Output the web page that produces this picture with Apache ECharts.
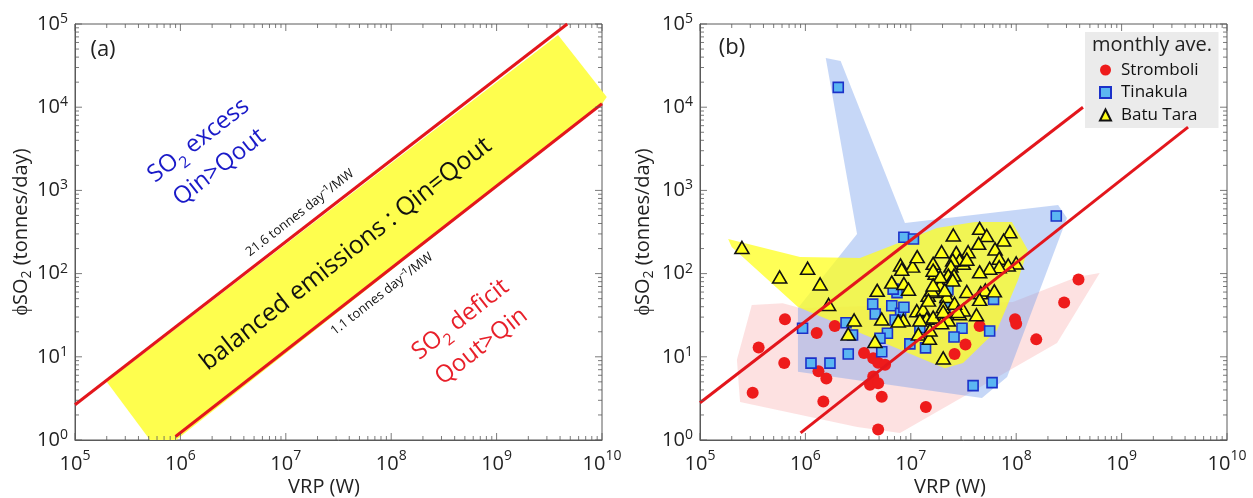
<!DOCTYPE html>
<html><head><meta charset="utf-8">
<script src="https://cdn.jsdelivr.net/npm/echarts/dist/echarts.min.js"></script>
<style>html,body{margin:0;padding:0;background:#fff}#c{width:1253px;height:498px}</style>
</head><body><div id="c"></div>
<script>
// ---------- axis / tick definitions ----------
const xDecades = [1e5, 1e6, 1e7, 1e8, 1e9, 1e10];
const yDecades = [1, 10, 100, 1e3, 1e4, 1e5];
const minorMultipliers = [2, 3, 4, 5, 6, 7, 8, 9];

// ---------- panel (a) ----------
const panelAUpperLine = [[1e5, 2.65], [4.68e9, 1e5]];      // 21.6 tonnes/day/MW
const panelALowerLine = [[9.0e5, 1.1], [1e10, 1.1e4]];     // 1.1 tonnes/day/MW
const panelABand = [[2.0e5, 5.0], [5.15e5, 1], [9.1e5, 1], [1.0e10, 1.1e4], [1.11e10, 1.33e4], [3.83e9, 7.4e4]];

// ---------- panel (b) ----------
const panelBUpperLine = [[1e5, 2.8], [4.3e8, 1e4]];
const panelBLowerLine = [[9.0e5, 1.22], [4.27e9, 5750]];

const strombolRegion = [[2.24e5, 9.2], [3.1e5, 42], [6.1e5, 44], [8.9e5, 38.6], [9.3e7, 45.6], [3.78e8, 91], [6.2e8, 102], [2.44e8, 14.7], [7.9e6, 1.21], [3.1e6, 1.43], [2.4e5, 2.86]];
const tinakulaRegion = [[1.56e6, 3.9e4], [2.16e6, 3.59e4], [8.8e6, 405], [2.5e8, 668], [3.03e8, 466], [8.2e7, 5.7], [4.73e7, 3.2], [8.5e5, 6.6], [8.5e5, 38.6], [3.09e6, 299]];
const batuTaraRegion = [[1.85e5, 261], [8.9e5, 158], [3.3e6, 154], [1.77e7, 353], [4.07e7, 417], [9.1e7, 417], [1.29e8, 192], [1.04e8, 83.8], [6.58e7, 21], [3.13e7, 8.4], [2.1e7, 7.3], [8.5e5, 39.7], [2.0e5, 209]];

const stromboli = [[3.16e5,3.7],[3.6e5,12.9],[6.4e5,28.2],[6.3e5,8.4],[1.28e6,19.3],[1.33e6,6.7],[1.58e6,5.5],[1.48e6,2.9],[1.9e6,23.5],[3.6e6,11.1],[4.4e6,9.6],[4.9e6,8.5],[5.7e6,8.0],[4.4e6,5.8],[4.1e6,4.6],[4.9e6,4.8],[5.3e6,3.3],[4.9e6,1.34],[1.39e7,2.5],[2.6e7,10.8],[3.3e7,14.1],[4.5e7,23.5],[9.75e7,28.2],[1.0e8,25],[1.55e8,16.2],[2.85e8,45],[3.9e8,85]];
const tinakula = [[2.05e6,17300],[8.6e6,273],[1.06e7,261],[2.4e8,492],[9.4e5,22],[1.13e6,8.4],[1.71e6,8.4],[2.43e6,25.7],[2.8e6,18.3],[2.55e6,10.8],[4.35e6,43],[4.6e6,32.7],[5.3e6,11.5],[6.0e6,19.2],[6.6e6,41],[7.4e6,59],[8.0e6,33.3],[8.6e6,39.4],[6.8e6,65],[9.8e6,14.3],[1.22e7,22.5],[1.38e7,12.8],[7.1e6,27.7],[5.1e6,16.7],[2.25e7,64],[2.13e7,41],[3.06e7,22],[2.57e7,17.3],[5.6e7,20.4],[6.1e7,49],[3.9e7,4.5],[5.9e7,4.9]];
const batuTara = [[2.5e5,206],[5.7e5,91],[1.05e6,116],[1.38e6,75],[1.66e6,42.5],[2.9e6,27.7],[2.55e6,18.8],[4.57e6,15.3],[4.8e6,63],[5.3e6,28.5],[6.6e6,79],[8.0e6,127],[8.6e6,76],[8.5e6,27.7],[9.5e6,65],[1.04e7,123],[1.15e7,160],[1.18e7,18.8],[1.5e7,16.7],[1.63e7,133],[1.7e7,101],[1.96e7,183],[2.03e7,9.7],[1.14e7,35.8],[1.31e7,37],[1.42e7,29],[1.46e7,55],[7.6e6,27],[8.2e6,113],[2.53e7,291],[4.5e7,350],[5.25e7,287],[8.7e7,319],[7.6e7,253],[4.4e7,231],[6.3e7,198],[6.9e7,153],[1.0e8,134],[8.4e7,127],[6.9e7,121],[5.6e7,116],[4.5e7,105],[3.5e7,183],[3.15e7,133],[2.7e7,179],[2.9e7,146],[2.5e7,146],[1.63e7,110],[2.4e7,123],[2.27e7,96],[2.57e7,96],[2.5e7,84],[1.9e7,73],[1.73e7,61],[2.2e7,53],[2.1e7,63.5],[1.58e7,63.5],[1.47e7,48],[2.03e7,40],[2.0e7,30],[2.27e7,27.7],[1.96e7,25.7],[1.63e7,30],[1.22e7,27.7],[3.4e7,61],[4.6e7,59],[5.1e7,63.5],[6.2e7,62],[4.5e7,49],[2.9e7,33],[3.15e7,36.5],[4.2e7,32],[2.6e7,44],[1.9e7,92],[2.8e7,35],[2.03e7,35],[1.52e7,21],[1.63e7,73],[3.4e7,149]];

// ---------- chart ----------
var FONT = 'Open Sans';
var AX = '#5a5a5a';
var X_MIN = xDecades[0], X_MAX = xDecades[xDecades.length - 1];
var Y_MIN = yDecades[0], Y_MAX = yDecades[yDecades.length - 1];

function expLabel(v) { return '{b|10}{e|' + Math.round(Math.log(v) / Math.LN10) + '}'; }

function xAxis(gi) {
  return {
    type: 'log', logBase: 10, gridIndex: gi, min: X_MIN, max: X_MAX,
    axisLine: { show: true, lineStyle: { color: AX, width: 1 } },
    axisTick: { show: false }, splitLine: { show: false },
    axisLabel: {
      formatter: expLabel, margin: 9, showMinLabel: true, showMaxLabel: true,
      rich: { b: { fontSize: 20, lineHeight: 30, color: '#222', fontFamily: FONT },
              e: { fontSize: 14, lineHeight: 10, verticalAlign: 'top', color: '#222', fontFamily: FONT } }
    }
  };
}
function yAxis(gi) {
  return {
    type: 'log', logBase: 10, gridIndex: gi, min: Y_MIN, max: Y_MAX,
    axisLine: { show: true, lineStyle: { color: AX, width: 1 } },
    axisTick: { show: false }, splitLine: { show: false },
    axisLabel: {
      formatter: expLabel, margin: 7, showMinLabel: true, showMaxLabel: true,
      rich: { b: { fontSize: 20, lineHeight: 24, color: '#222', fontFamily: FONT },
              e: { fontSize: 14, lineHeight: 12, verticalAlign: 'top', color: '#222', fontFamily: FONT } }
    }
  };
}

function polySeries(pts, fill, gi) {
  return {
    type: 'custom', xAxisIndex: gi, yAxisIndex: gi, silent: true, z: 1,
    data: [pts[0]],
    renderItem: function (params, api) {
      return { type: 'polygon', shape: { points: pts.map(function (p) { return api.coord(p); }) }, style: { fill: fill } };
    }
  };
}
function lineSeries(pts, gi) {
  return {
    type: 'line', xAxisIndex: gi, yAxisIndex: gi, data: pts, symbol: 'none', silent: true, z: 5,
    lineStyle: { color: '#e3161c', width: 3 }
  };
}

// ---- ticks: tiny rect symbols placed on the axes via the log scales ----
function minorOf(decades) {
  var out = [];
  for (var i = 0; i < decades.length - 1; i++)
    for (var j = 0; j < minorMultipliers.length; j++) out.push(decades[i] * minorMultipliers[j]);
  return out;
}
var minorX = minorOf(xDecades), minorY = minorOf(yDecades);
function tickScatter(gi, data, size, offset) {
  return {
    type: 'scatter', xAxisIndex: gi, yAxisIndex: gi, data: data, symbol: 'rect',
    symbolSize: size, symbolOffset: offset, silent: true, clip: false, z: 8,
    itemStyle: { color: AX }, emphasis: { disabled: true }, animation: false
  };
}
function tickSeriesFor(gi) {
  var S = [];
  [[xDecades, 7], [minorX, 4]].forEach(function (d) {
    var len = d[1];
    S.push(tickScatter(gi, d[0].map(function (v) { return [v, Y_MIN]; }), [1, len], [0, -len / 2]));
    S.push(tickScatter(gi, d[0].map(function (v) { return [v, Y_MAX]; }), [1, len], [0, len / 2]));
  });
  [[yDecades, 7], [minorY, 4]].forEach(function (d) {
    var len = d[1];
    S.push(tickScatter(gi, d[0].map(function (v) { return [X_MIN, v]; }), [len, 1], [len / 2, 0]));
    S.push(tickScatter(gi, d[0].map(function (v) { return [X_MAX, v]; }), [len, 1], [-len / 2, 0]));
  });
  return S;
}

var rot = 38 * Math.PI / 180;
function subRich(size, color) { return { s: { fontSize: size, verticalAlign: 'bottom', lineHeight: size, color: color, fontFamily: FONT } }; }

var texts = [
  { type: 'text', x: 103, y: 50, z: 100, style: { text: '(a)', fontSize: 22, fill: '#222', align: 'center', verticalAlign: 'middle', fontFamily: FONT } },
  { type: 'text', x: 732, y: 48, z: 100, style: { text: '(b)', fontSize: 22, fill: '#222', align: 'center', verticalAlign: 'middle', fontFamily: FONT } },
  { type: 'text', x: 1092, y: 45, z: 100, style: { text: 'monthly ave.', fontSize: 20, fill: '#222', align: 'left', verticalAlign: 'middle', fontFamily: FONT } },
  { type: 'text', x: 324, y: 487, z: 100, style: { text: 'VRP (W)', fontSize: 20, fill: '#222', align: 'center', verticalAlign: 'middle', fontFamily: FONT } },
  { type: 'text', x: 950, y: 487, z: 100, style: { text: 'VRP (W)', fontSize: 20, fill: '#222', align: 'center', verticalAlign: 'middle', fontFamily: FONT } },
  { type: 'text', x: 21, y: 232, rotation: Math.PI / 2, z: 100, style: { text: 'ϕSO{s|2} (tonnes/day)', fontSize: 20, lineHeight: 26, fill: '#222', align: 'center', verticalAlign: 'middle', fontFamily: FONT, rich: subRich(14, '#222') } },
  { type: 'text', x: 643, y: 232, rotation: Math.PI / 2, z: 100, style: { text: 'ϕSO{s|2} (tonnes/day)', fontSize: 20, lineHeight: 26, fill: '#222', align: 'center', verticalAlign: 'middle', fontFamily: FONT, rich: subRich(14, '#222') } },
  { type: 'text', x: 209, y: 154, rotation: rot, z: 100, style: { text: 'SO{s|2} excess\nQin>Qout', fontSize: 24, lineHeight: 34, fill: '#1a1ac8', align: 'center', verticalAlign: 'middle', fontFamily: FONT, rich: subRich(16, '#1a1ac8') } },
  { type: 'text', x: 471, y: 333, rotation: rot, z: 100, style: { text: 'SO{s|2} deficit\nQout>Qin', fontSize: 24, lineHeight: 34, fill: '#e8202a', align: 'center', verticalAlign: 'middle', fontFamily: FONT, rich: subRich(16, '#e8202a') } },
  { type: 'text', x: 346, y: 254, rotation: rot, z: 100, style: { text: 'balanced emissions : Qin=Qout', fontSize: 25, fill: '#111', align: 'center', verticalAlign: 'middle', fontFamily: FONT } },
  { type: 'text', x: 300, y: 213, rotation: rot, z: 100, style: { text: '21.6 tonnes day⁻¹/MW', fontSize: 13, fill: '#111', align: 'center', verticalAlign: 'middle', fontFamily: FONT } },
  { type: 'text', x: 382, y: 294, rotation: rot, z: 100, style: { text: '1.1 tonnes day⁻¹/MW', fontSize: 13, fill: '#111', align: 'center', verticalAlign: 'middle', fontFamily: FONT } }
];

var series = [
  polySeries(panelABand, '#fefe4e', 0),
  lineSeries(panelAUpperLine, 0),
  lineSeries(panelALowerLine, 0),

  polySeries(strombolRegion, 'rgba(250,165,165,0.33)', 1),
  polySeries(tinakulaRegion, 'rgba(120,160,235,0.42)', 1),
  polySeries(batuTaraRegion, 'rgba(255,255,30,0.75)', 1),
  { type: 'scatter', name: 'Stromboli', xAxisIndex: 1, yAxisIndex: 1, data: stromboli, symbol: 'circle', symbolSize: 12, z: 3,
    itemStyle: { color: '#ee1b1b', opacity: 1 } },
  { type: 'scatter', name: 'Tinakula', xAxisIndex: 1, yAxisIndex: 1, data: tinakula, symbol: 'rect', symbolSize: 10, z: 3,
    itemStyle: { color: '#5bb6f2', borderColor: '#1b31c9', borderWidth: 1.6, opacity: 1 } },
  { type: 'scatter', name: 'Batu Tara', xAxisIndex: 1, yAxisIndex: 1, data: batuTara, symbol: 'triangle', symbolSize: [14, 12], z: 3,
    itemStyle: { color: '#ffff1a', borderColor: '#111', borderWidth: 1.6, opacity: 1 } },
  lineSeries(panelBUpperLine, 1),
  lineSeries(panelBLowerLine, 1)
].concat(tickSeriesFor(0), tickSeriesFor(1));

var option = {
  animation: false,
  backgroundColor: '#fff',
  textStyle: { fontFamily: FONT },
  grid: [
    { left: 75, top: 24, width: 527, height: 416, show: true, borderColor: AX, borderWidth: 1, backgroundColor: 'transparent' },
    { left: 700, top: 24, width: 527, height: 416, show: true, borderColor: AX, borderWidth: 1, backgroundColor: 'transparent' }
  ],
  xAxis: [xAxis(0), xAxis(1)],
  yAxis: [yAxis(0), yAxis(1)],
  legend: {
    data: [{ name: 'Stromboli', icon: 'circle' }, { name: 'Tinakula', icon: 'rect' }, { name: 'Batu Tara', icon: 'triangle' }],
    orient: 'vertical', left: 1085, top: 32, padding: [28, 20, 3, 14], itemGap: 2.5,
    itemWidth: 11, itemHeight: 11, backgroundColor: '#ebebeb', borderRadius: 0,
    textStyle: { fontSize: 17, color: '#111', lineHeight: 20, padding: [0, 0, 0, 5], fontFamily: FONT },
    selectedMode: false
  },
  series: series,
  graphic: texts
};
var chart = echarts.init(document.getElementById('c'), null, { renderer: 'canvas' });
chart.setOption(option);
</script></body></html>
